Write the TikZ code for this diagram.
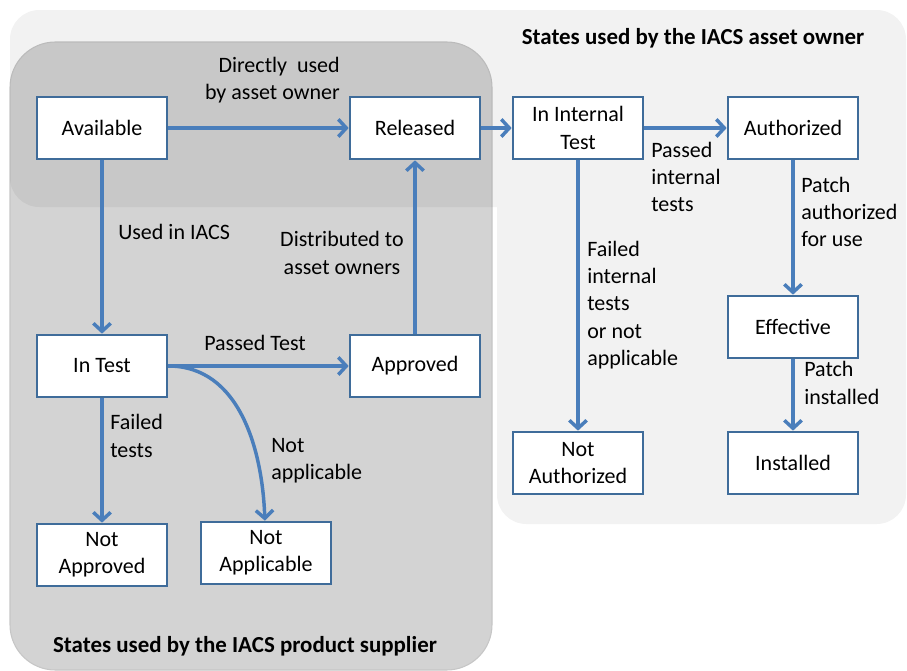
\documentclass[tikz,border=0pt]{standalone}
\usepackage{fontspec}
\setmainfont{Carlito}
\usetikzlibrary{arrows.meta}
\definecolor{boxline}{HTML}{3F6C9A}
\definecolor{arrowline}{HTML}{4A7EBB}
\definecolor{supfill}{HTML}{D3D3D3}
\definecolor{supline}{HTML}{C6C6C6}
\begin{document}
\begin{tikzpicture}[x=0.75pt,y=-0.75pt,font=\fontsize{16.5}{20.5}\selectfont]
			\tikzstyle{ST}=[rectangle,draw=boxline,line width=1.5pt,fill=white,minimum width=98pt,minimum height=47pt,align=center,inner sep=2pt]
			\tikzstyle{LB}=[inner sep=0pt,align=left]
			\tikzstyle{TR}=[draw=arrowline,line width=2.6pt,-{Straight Barb[length=6pt,width=13pt]}]
			\useasboundingbox (0,0) rectangle (907,671);
			
			% the two groups of states
			\filldraw[fill=supfill,draw=supline,line width=0.8pt,rounded corners=34pt] (10,42) rectangle (492,670);
			\fill[black,fill opacity=0.05,rounded corners=22pt] (10,10) rectangle (906,207) (497,10) rectangle (906,524);
			\node[font=\fontsize{17.2}{20.5}\selectfont\bfseries] (owner) at (693,38) {States used by the IACS asset owner};
			\node[font=\fontsize{17.2}{20.5}\selectfont\bfseries] (supplier) at (245,646) {States used by the IACS product supplier};
			
			\begin{scope}
			\node[ST] (avail)   at (102,128) {Available};
			\node[ST] (rel)     at (415,128) {Released};
			\node[ST] (intt)    at (578,128) {In Internal\\Test};
			\node[ST] (auth)    at (793,128) {Authorized};
			\node[ST] (intest)  at (102,366) {In Test};
			\node[ST] (appr)    at (415,366) {Approved};
			\node[ST] (eff)     at (793,327) {Effective};
			\node[ST] (notauth) at (578,463) {Not\\Authorized};
			\node[ST] (inst)    at (793,463) {Installed};
			\node[ST] (notappr) at (102,555) {Not\\Approved};
			\node[ST] (notappl) at (266,553) {Not\\Applicable};
			\end{scope}
			
			\path[TR]
			(avail) edge (rel)
			(rel) edge (intt)
			(intt) edge (auth)
			(avail) edge (intest)
			(appr) edge (rel)
			(intest) edge (appr)
			(intest) edge (notappr)
			(intest) edge[out=0,in=92] (notappl)
			(intt) edge (notauth)
			(auth) edge (eff)
			(eff) edge (inst)
			;
			
			% transition labels
			\node[LB,align=right,anchor=east] (l-direct) at (340,80) {Directly\ \ used\\by asset owner};
			\node[LB,anchor=west] (l-used)      at (118,232) {Used in IACS};
			\node[LB,align=center] (l-distr)    at (342,253) {Distributed to\\asset owners};
			\node[LB,anchor=west] (l-passed)    at (204,343) {Passed Test};
			\node[LB,anchor=west] (l-failed)    at (110,436) {Failed\\tests};
			\node[LB,anchor=west] (l-notappl)   at (271,461) {Not\\applicable};
			\node[LB,anchor=west] (l-passint)   at (651,177) {Passed\\internal\\tests};
			\node[LB,anchor=west] (l-failint)   at (587,305) {Failed\\internal\\tests\\or not\\applicable};
			\node[LB,anchor=west] (l-patchauth) at (801,212) {Patch\\authorized\\for use};
			\node[LB,anchor=west] (l-patchinst) at (804,383) {Patch\\installed};
		\end{tikzpicture}
\end{document}
